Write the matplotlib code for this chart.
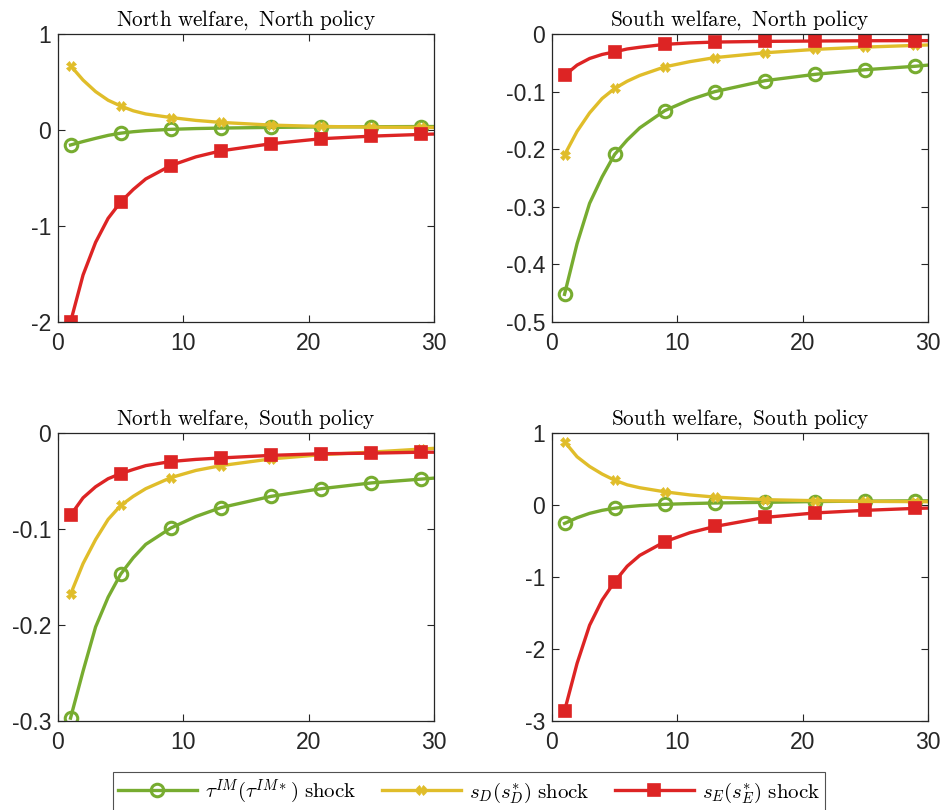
import matplotlib
matplotlib.use("Agg")
import matplotlib.pyplot as plt
from matplotlib.ticker import FuncFormatter

plt.rcParams['axes.unicode_minus'] = False
plt.rcParams['mathtext.fontset'] = 'cm'
plt.rcParams['font.family'] = ['Liberation Sans', 'DejaVu Sans']

# Horizon (periods) at which values were read
x = [1, 2, 3, 4, 5, 6, 7, 9, 11, 13, 17, 21, 25, 29, 30]
marker_x = [1, 5, 9, 13, 17, 21, 25, 29]

titles = ["North welfare, North policy", "South welfare, North policy",
          "North welfare, South policy", "South welfare, South policy"]

# Panel 1: North welfare, North policy
nn_tau = [-0.156, -0.12, -0.087, -0.056, -0.033, -0.018, -0.007, 0.007, 0.015, 0.02, 0.027, 0.032, 0.034, 0.036, 0.036]
nn_sD = [0.67, 0.52, 0.40, 0.31, 0.25, 0.20, 0.167, 0.13, 0.10, 0.079, 0.051, 0.037, 0.030, 0.027, 0.026]
nn_sE = [-2.0, -1.51, -1.17, -0.92, -0.75, -0.62, -0.51, -0.37, -0.28, -0.217, -0.143, -0.091, -0.064, -0.046, -0.042]

# Panel 2: South welfare, North policy
sn_tau = [-0.452, -0.364, -0.294, -0.248, -0.209, -0.184, -0.163, -0.133, -0.114, -0.100, -0.081, -0.070, -0.062, -0.056, -0.054]
sn_sD = [-0.210, -0.169, -0.137, -0.112, -0.0945, -0.082, -0.072, -0.057, -0.048, -0.041, -0.0326, -0.0267, -0.0227, -0.0198, -0.019]
sn_sE = [-0.072, -0.054, -0.0425, -0.0355, -0.031, -0.026, -0.023, -0.018, -0.0155, -0.014, -0.0128, -0.0122, -0.0117, -0.0115, -0.0115]

# Panel 3: North welfare, South policy
ns_tau = [-0.297, -0.248, -0.202, -0.171, -0.147, -0.130, -0.116, -0.099, -0.087, -0.0777, -0.066, -0.058, -0.052, -0.048, -0.047]
ns_sD = [-0.168, -0.136, -0.111, -0.090, -0.0755, -0.066, -0.058, -0.0465, -0.039, -0.034, -0.027, -0.0226, -0.0199, -0.0167, -0.016]
ns_sE = [-0.0857, -0.0675, -0.056, -0.0476, -0.0423, -0.038, -0.034, -0.0297, -0.0275, -0.026, -0.0233, -0.0216, -0.021, -0.020, -0.020]

# Panel 4: South welfare, South policy
ss_tau = [-0.256, -0.177, -0.116, -0.074, -0.045, -0.024, -0.009, 0.009, 0.02, 0.028, 0.037, 0.048, 0.054, 0.058, 0.058]
ss_sD = [0.88, 0.67, 0.535, 0.43, 0.344, 0.28, 0.24, 0.183, 0.14, 0.11, 0.074, 0.06, 0.05, 0.047, 0.045]
ss_sE = [-2.86, -2.2, -1.67, -1.32, -1.065, -0.85, -0.70, -0.51, -0.385, -0.298, -0.172, -0.11, -0.074, -0.047, -0.043]

panels = [(nn_tau, nn_sD, nn_sE), (sn_tau, sn_sD, sn_sE),
          (ns_tau, ns_sD, ns_sE), (ss_tau, ss_sD, ss_sE)]
yticks = [[-2, -1, 0, 1], [-0.5, -0.4, -0.3, -0.2, -0.1, 0],
          [-0.3, -0.2, -0.1, 0], [-3, -2, -1, 0, 1]]
xticks = [0, 10, 20, 30]

labels = [r'$\tau^{IM}(\tau^{IM*})\ \mathrm{shock}$',
          r'$s_D(s_D^{*})\ \mathrm{shock}$',
          r'$s_E(s_E^{*})\ \mathrm{shock}$']
colors = ['#77AC30', '#E0BD2A', '#DD2424']
markers = ['o', 'X', 's']
msizes = [9, 7, 8.5]
mews = [2.2, 0.5, 1.2]
mfcs = ['none', None, None]

W, H = 943, 810
fig = plt.figure(figsize=(W / 100, H / 100), dpi=100)
boxes = [(58, 34), (552, 34), (58, 433), (552, 433)]
aw, ah = 376, 288

mark_idx = [x.index(v) for v in marker_x]
handles = []
for k, (series, (lx, ty)) in enumerate(zip(panels, boxes)):
    ax = fig.add_axes([lx / W, 1 - (ty + ah) / H, aw / W, ah / H])
    for j, ys in enumerate(series):
        kw = dict(color=colors[j], lw=2.4, marker=markers[j], ms=msizes[j],
                  mew=mews[j], markevery=mark_idx, clip_on=True)
        if mfcs[j] is not None:
            kw['mfc'] = mfcs[j]
        h, = ax.plot(x, ys, label=labels[j], **kw)
        if k == 0:
            handles.append(h)
    ax.set_xlim(0, 30)
    ax.set_ylim(yticks[k][0], yticks[k][-1])
    ax.set_xticks(xticks)
    ax.set_yticks(yticks[k])
    ax.yaxis.set_major_formatter(FuncFormatter(lambda v, p: '%g' % v))
    ax.tick_params(direction='in', length=5, width=0.8, top=True, right=True,
                   labelsize=16.5, colors='#262626')
    ax.tick_params(axis='x', pad=7)
    ax.tick_params(axis='y', pad=5)
    for s in ax.spines.values():
        s.set_color('#262626')
        s.set_linewidth(0.9)
    ax.set_title(r'$\mathrm{' + titles[k].replace(' ', r'\ ') + '}$',
                 fontsize=15.3, pad=6, color='black')

leg = fig.legend(handles, labels, loc='center', bbox_to_anchor=(0.4973, 0.0228),
                 ncol=3, fontsize=15, frameon=True, fancybox=False,
                 edgecolor='#262626', handlelength=3.8, columnspacing=1.2,
                 handletextpad=0.4, borderpad=0.25)
leg.get_frame().set_linewidth(0.8)

fig.savefig('out.png', dpi=100)
